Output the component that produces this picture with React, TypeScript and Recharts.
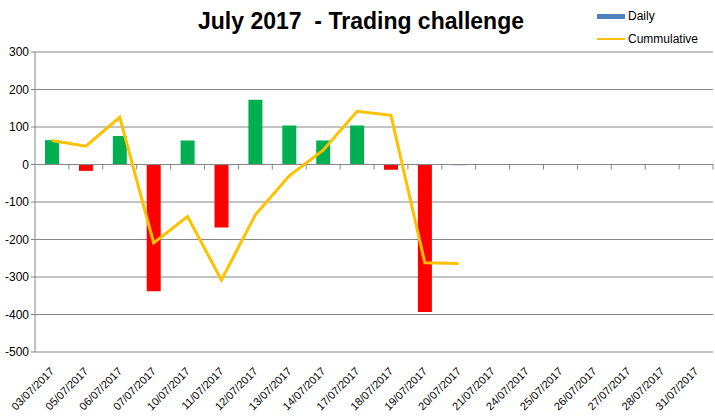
import { ComposedChart, Bar, Line, Cell, XAxis, YAxis, CartesianGrid, ReferenceLine } from 'recharts';

const dates = [
  '03/07/2017', '05/07/2017', '06/07/2017', '07/07/2017', '10/07/2017',
  '11/07/2017', '12/07/2017', '13/07/2017', '14/07/2017', '17/07/2017',
  '18/07/2017', '19/07/2017', '20/07/2017', '21/07/2017', '24/07/2017',
  '25/07/2017', '26/07/2017', '27/07/2017', '28/07/2017', '31/07/2017',
];

const daily = [65, -17, 76, -338, 64, -168, 173, 104, 64, 104, -14, -393, -2];
const cummulative = [64, 49, 126, -209, -139, -308, -134, -30, 38, 142, 131, -262, -264];

const yTicks = [300, 200, 100, 0, -100, -200, -300, -400, -500];

const GREEN = '#00b050';
const RED = '#ff0000';
const BLUE = '#4f81bd';
const GOLD = '#ffc000';
const GRID = '#868686';
const FONT = "Arial, 'Liberation Sans', sans-serif";

const data = dates.map((d, i) => ({
  date: d,
  daily: i < daily.length ? daily[i] : null,
  cummulative: i < cummulative.length ? cummulative[i] : null,
}));

// bars were coloured by hand in the original: gains green, losses red, flat ones left default
const barColor = (v: number | null) => {
  if (v == null) return BLUE;
  if (v >= 5) return GREEN;
  if (v <= -5) return RED;
  return BLUE;
};

// zero line with the category tick marks hanging below it
const ZeroAxis = (props: any) => {
  const { x1, x2, y1 } = props;
  const step = (x2 - x1) / dates.length;
  return (
    <g>
      <line x1={x1} x2={x2} y1={y1} y2={y1} stroke={GRID} strokeWidth={1} />
      {dates.map((_, i) => (
        <line key={i} x1={x1 + step * (i + 1)} x2={x1 + step * (i + 1)} y1={y1} y2={y1 + 5} stroke={GRID} />
      ))}
    </g>
  );
};

const DateTick = (props: any) => {
  const { x, y, payload } = props;
  const tx = x + 3;
  const ty = y + 12;
  return (
    <text
      x={tx}
      y={ty}
      textAnchor="end"
      fontSize={11}
      fontFamily={FONT}
      fill="#000"
      transform={`rotate(-45 ${tx} ${ty})`}
    >
      {payload.value}
    </text>
  );
};

export default function App() {
  return (
    <div style={{ position: 'absolute', left: 0, top: 0, width: 715, height: 418, background: '#fff', fontFamily: FONT }}>
      <div style={{ position: 'absolute', left: 0, top: 8, width: 722, textAlign: 'center', fontSize: 23, fontWeight: 'bold', color: '#000', whiteSpace: 'pre' }}>
        {'July 2017  - Trading challenge'}
      </div>
      <div style={{ position: 'absolute', left: 597, top: 8, fontSize: 12, color: '#000' }}>
        <div style={{ display: 'flex', alignItems: 'center', height: 16 }}>
          <span style={{ display: 'inline-block', width: 28, height: 5, background: BLUE, marginRight: 3 }} />
          Daily
        </div>
        <div style={{ display: 'flex', alignItems: 'center', height: 16, marginTop: 7 }}>
          <span style={{ display: 'inline-block', width: 28, height: 2, background: GOLD, marginRight: 3 }} />
          Cummulative
        </div>
      </div>
      <ComposedChart width={715} height={418} data={data} margin={{ top: 52, right: 2, bottom: 0, left: 0 }}>
        <CartesianGrid vertical={false} stroke={GRID} />
        <XAxis
          dataKey="date"
          interval={0}
          axisLine={false}
          tickLine={false}
          tick={<DateTick />}
          height={66}
        />
        <YAxis
          domain={[-500, 300]}
          ticks={yTicks}
          interval={0}
          width={35}
          axisLine={{ stroke: GRID }}
          tickLine={{ stroke: GRID }}
          tickSize={4}
          tick={{ fontSize: 12, fill: '#000', fontFamily: FONT }}
        />
        <ReferenceLine y={0} shape={<ZeroAxis />} />
        <Bar dataKey="daily" barSize={14} isAnimationActive={false}>
          {data.map((d, i) => (
            <Cell key={i} fill={barColor(d.daily)} />
          ))}
        </Bar>
        <Line
          dataKey="cummulative"
          stroke={GOLD}
          strokeWidth={3}
          dot={false}
          type="linear"
          isAnimationActive={false}
          connectNulls={false}
        />
      </ComposedChart>
    </div>
  );
}
